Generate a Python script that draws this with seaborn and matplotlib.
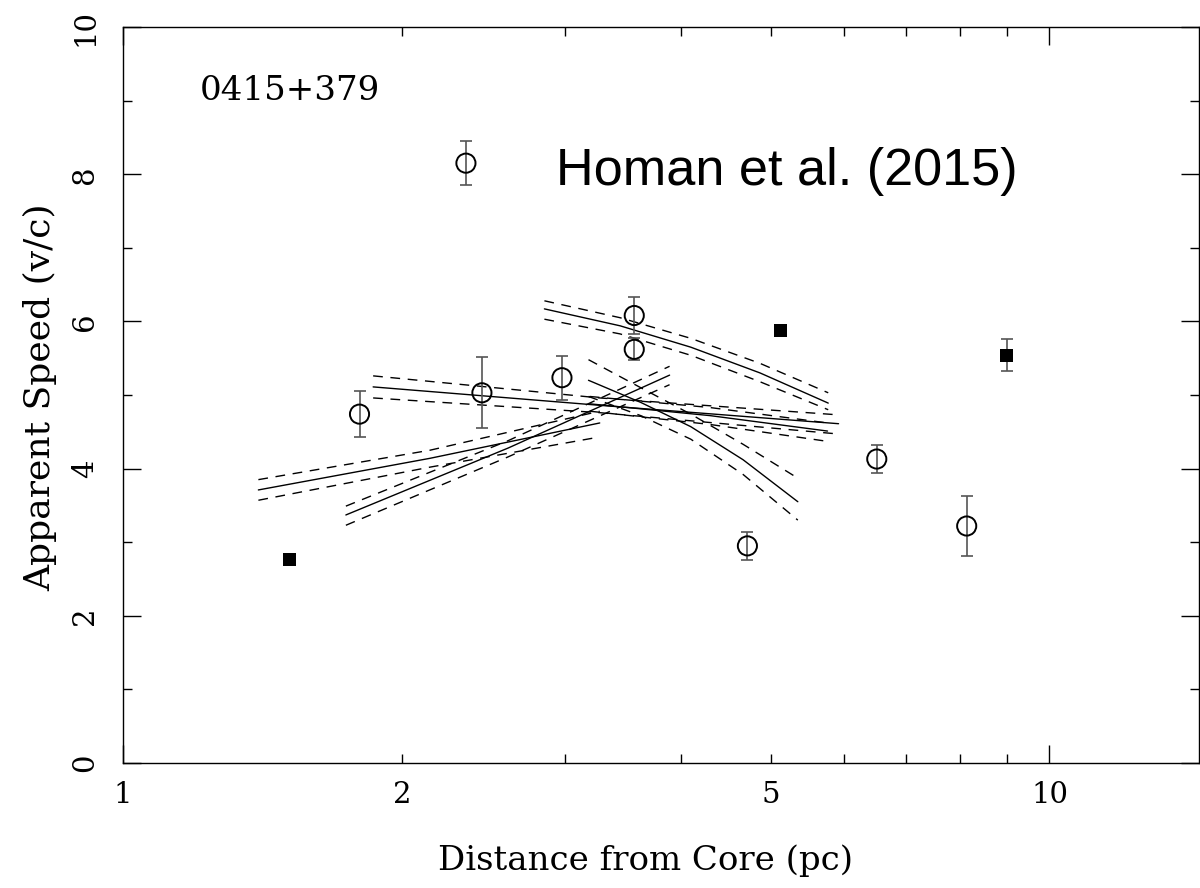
import numpy as np
import pandas as pd
import matplotlib
matplotlib.use("Agg")
import matplotlib.pyplot as plt
import seaborn as sns
from matplotlib.ticker import FixedLocator, FixedFormatter, NullFormatter

# ---------------- data ----------------
circle_x = [1.80, 2.44, 2.977, 3.563, 3.563, 2.345, 4.72, 6.51, 8.14]
circle_y = [4.74, 5.03, 5.235, 6.08, 5.62, 8.15, 2.95, 4.13, 3.22]
circle_err = [0.31, 0.48, 0.30, 0.25, 0.15, 0.30, 0.19, 0.185, 0.41]

square_x = [1.512, 5.13, 8.99]
square_y = [2.77, 5.87, 5.54]
square_err = [0.0, 0.0, 0.22]

# fitted speed curves (centre, upper and lower band)
fitA_x = [1.862, 3.27, 5.92]
fitA_y = [5.11, 4.86, 4.61]
fitA_hi = [5.26, 4.96, 4.73]
fitA_lo = [4.96, 4.76, 4.47]

fitB_x = [1.40, 2.145, 3.27]
fitB_y = [3.71, 4.14, 4.62]
fitB_hi = [3.85, 4.25, 4.78]
fitB_lo = [3.57, 4.02, 4.43]

fitC_x = [1.74, 2.605, 3.89]
fitC_y = [3.37, 4.28, 5.27]
fitC_hi = [3.49, 4.38, 5.39]
fitC_lo = [3.23, 4.16, 5.14]

fitD_x = [3.18, 3.62, 4.10, 4.67, 5.35]
fitD_y = [5.20, 4.90, 4.57, 4.12, 3.55]
fitD_hi = [5.48, 5.10, 4.74, 4.33, 3.87]
fitD_lo = [4.98, 4.72, 4.40, 3.92, 3.30]

fitE_x = [2.85, 3.44, 4.10, 4.87, 5.77]
fitE_y = [6.17, 5.94, 5.65, 5.30, 4.89]
fitE_hi = [6.28, 6.05, 5.77, 5.43, 5.03]
fitE_lo = [6.03, 5.83, 5.54, 5.18, 4.80]

fitF_x = [3.19, 4.30, 5.76]
fitF_y = [4.88, 4.72, 4.51]
fitF_hi = [4.98, 4.83, 4.62]
fitF_lo = [4.78, 4.60, 4.37]

x_major = [1, 10]
x_minor = [2, 3, 4, 5, 6, 7, 8, 9]
x_minor_labels = ["2", "", "", "5", "", "", "", ""]
y_major = [0, 2, 4, 6, 8, 10]
y_minor = [1, 3, 5, 7, 9]

# ---------------- build long table for the curves ----------------
fits = {
    "A": (fitA_x, fitA_y, fitA_hi, fitA_lo),
    "B": (fitB_x, fitB_y, fitB_hi, fitB_lo),
    "C": (fitC_x, fitC_y, fitC_hi, fitC_lo),
    "D": (fitD_x, fitD_y, fitD_hi, fitD_lo),
    "E": (fitE_x, fitE_y, fitE_hi, fitE_lo),
    "F": (fitF_x, fitF_y, fitF_hi, fitF_lo),
}
rows = []
for name, (xs, ym, yh, yl) in fits.items():
    for kind, ys in (("fit", ym), ("band_hi", yh), ("band_lo", yl)):
        for xv, yv in zip(xs, ys):
            rows.append({"curve": f"{name}_{kind}",
                         "kind": "fit" if kind == "fit" else "band",
                         "x": xv, "y": yv})
curves = pd.DataFrame(rows)

# ---------------- style ----------------
sns.set_style("ticks")
plt.rcParams["font.family"] = ["DejaVu Serif"]
plt.rcParams["axes.linewidth"] = 1.0
plt.rcParams["text.color"] = "black"
plt.rcParams["axes.labelcolor"] = "black"
plt.rcParams["xtick.color"] = "black"
plt.rcParams["ytick.color"] = "black"

fig = plt.figure(figsize=(12, 8.88), dpi=100)
ax = fig.add_axes([123 / 1200, 1 - 763 / 888, 1076 / 1200, 736 / 888])
ax.set_xscale("log")

sns.lineplot(data=curves, x="x", y="y", units="curve", estimator=None,
             style="kind", dashes={"fit": "", "band": (7, 5.5)},
             color="black", linewidth=1.0, legend=False, ax=ax)

ax.errorbar(circle_x, circle_y, yerr=circle_err, fmt="none",
            ecolor="#555555", elinewidth=1.2, capsize=4, capthick=1.2, zorder=3)
ax.errorbar(square_x, square_y, yerr=square_err, fmt="none",
            ecolor="#555555", elinewidth=1.2, capsize=4, capthick=1.2, zorder=3)

sns.scatterplot(x=circle_x, y=circle_y, marker="o", s=190,
                facecolor="none", edgecolor="black", linewidth=1.4,
                zorder=4, ax=ax)
sns.scatterplot(x=square_x, y=square_y, marker="s", s=88,
                color="black", edgecolor="none", linewidth=0,
                zorder=4, ax=ax)

ax.set_xlim(1, 14.5)
ax.set_ylim(0, 10)

ax.xaxis.set_major_locator(FixedLocator(x_major))
ax.xaxis.set_major_formatter(FixedFormatter([str(v) for v in x_major]))
ax.xaxis.set_minor_locator(FixedLocator(x_minor))
ax.xaxis.set_minor_formatter(FixedFormatter(x_minor_labels))
ax.yaxis.set_major_locator(FixedLocator(y_major))
ax.yaxis.set_major_formatter(FixedFormatter([str(v) for v in y_major]))
ax.yaxis.set_minor_locator(FixedLocator(y_minor))
ax.yaxis.set_minor_formatter(NullFormatter())

ax.tick_params(which="both", direction="in", top=True, right=True,
               colors="black", width=1.0)
ax.tick_params(which="major", length=13)
ax.tick_params(which="minor", length=6.5)
ax.tick_params(axis="x", which="both", labelsize=21, pad=13)
ax.tick_params(axis="y", which="both", labelsize=21, pad=17, labelrotation=90)
for lab in ax.get_yticklabels():
    lab.set_va("center")

for sp in ax.spines.values():
    sp.set_visible(True)
    sp.set_color("black")
    sp.set_linewidth(1.0)

ax.set_xlabel("Distance from Core (pc)", fontsize=24.5)
ax.xaxis.set_label_coords(0.486, -0.110)
ax.set_ylabel("Apparent Speed (v/c)", fontsize=26)
ax.yaxis.set_label_coords(-0.061, 0.497)

ax.text(0.0716, 0.913, "0415+379", transform=ax.transAxes,
        ha="left", va="center", fontsize=24.5)
ax.text(0.4024, 0.804, "Homan et al. (2015)", transform=ax.transAxes,
        ha="left", va="center", fontsize=37.6, family=["Liberation Sans"])

fig.savefig("out.png", dpi=100)
